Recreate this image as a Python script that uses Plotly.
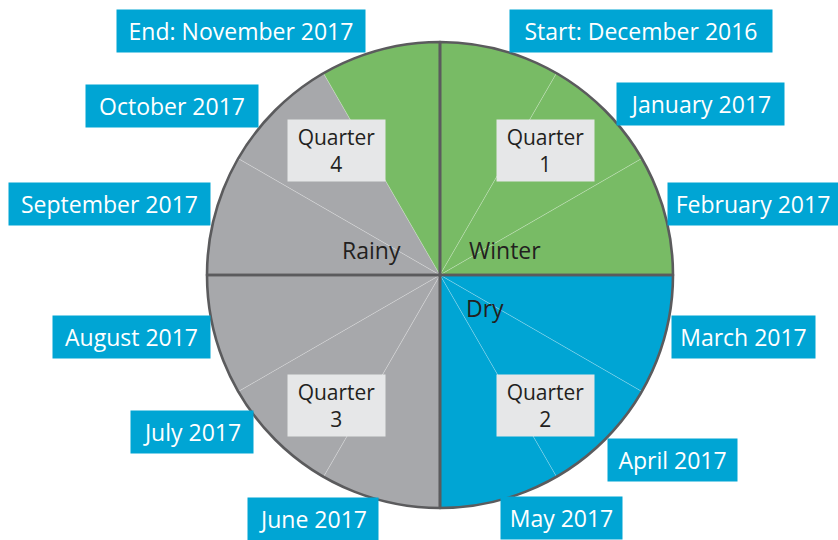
import plotly.graph_objects as go

W, H = 838, 540

months = ["Start: December 2016", "January 2017", "February 2017", "March 2017",
          "April 2017", "May 2017", "June 2017", "July 2017", "August 2017",
          "September 2017", "October 2017", "End: November 2017"]
month_share = [1] * 12
seasons = ["Winter", "Winter", "Winter", "Dry", "Dry", "Dry",
           "Rainy", "Rainy", "Rainy", "Rainy", "Rainy", "Winter"]
quarters = ["Quarter<br>1", "Quarter<br>2", "Quarter<br>3", "Quarter<br>4"]
quarter_share = [1, 1, 1, 1]
season_names = ["Winter", "Dry", "Rainy"]

season_colors = {"Winter": "#78bb65", "Dry": "#00a5d4", "Rainy": "#a7a8ab"}
blue = "#00a5d4"
font = "Open Sans"

# pie placement (pixels): centre and radius
cx, cy, r = 440, 275, 233
dom_x = [(cx - r) / W, (cx + r) / W]
dom_y = [1 - (cy + r) / H, 1 - (cy - r) / H]

fig = go.Figure()
fig.add_trace(go.Pie(
    values=month_share, labels=months, sort=False, direction="clockwise",
    rotation=0, textinfo="none", hoverinfo="label",
    marker=dict(colors=[season_colors[s] for s in seasons],
                line=dict(color="rgba(255,255,255,0.3)", width=0.7)),
    domain=dict(x=dom_x, y=dom_y), showlegend=False,
))
# quarter outlines + outer ring
fig.add_trace(go.Pie(
    values=quarter_share, labels=quarters, sort=False, direction="clockwise",
    rotation=0, textinfo="none", hoverinfo="skip",
    marker=dict(colors=["rgba(0,0,0,0)"] * 4,
                line=dict(color="#5b5b5d", width=2.6)),
    domain=dict(x=dom_x, y=dom_y), showlegend=False,
))


def px(x, y):
    return x / W, 1 - y / H


# month label boxes: (centre x, centre y, width)
month_boxes = [(641, 31, 262), (700, 104, 167), (753, 204, 170), (743, 337, 143),
               (672, 460, 129), (561, 518, 121), (313, 519, 130), (192, 432, 122),
               (131, 337, 157), (109, 204, 201), (172, 106, 172), (241, 31, 248)]
for m, (x, y, w) in zip(months, month_boxes):
    ax, ay = px(x, y)
    fig.add_annotation(x=ax, y=ay, xref="paper", yref="paper", text=m,
                       xanchor="center", yanchor="middle",
                       showarrow=False, bgcolor=blue, width=w, height=42,
                       borderpad=0, font=dict(family=font, size=23, color="white"))

quarter_boxes = [(545, 150), (545, 405), (336, 405), (336, 150)]
for q, (x, y) in zip(quarters, quarter_boxes):
    ax, ay = px(x, y)
    fig.add_annotation(x=ax, y=ay, xref="paper", yref="paper", text=q,
                       xanchor="center", yanchor="middle",
                       showarrow=False, bgcolor="#e6e7e8", width=97, height=61,
                       borderpad=0, font=dict(family=font, size=21, color="#231f20"))

season_pos = [(505, 250), (485, 308), (371, 250)]
for s, (x, y) in zip(season_names, season_pos):
    ax, ay = px(x, y)
    fig.add_annotation(x=ax, y=ay, xref="paper", yref="paper", text=s,
                       xanchor="center", yanchor="middle", showarrow=False,
                       font=dict(family=font, size=23, color="#231f20"))

fig.update_layout(width=W, height=H, margin=dict(l=0, r=0, t=0, b=0),
                  paper_bgcolor="white", plot_bgcolor="white")
fig.write_html("out.html", config={"displayModeBar": False},
               post_script="document.body.style.margin='0px';")
